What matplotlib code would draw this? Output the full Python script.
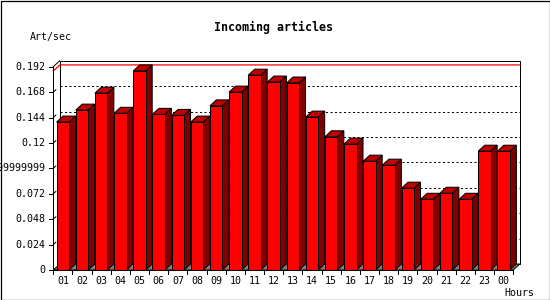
import matplotlib
matplotlib.use("Agg")
import matplotlib.pyplot as plt
from matplotlib.patches import Polygon, Rectangle
from matplotlib.transforms import blended_transform_factory

# ---- data ----
hours = ["01", "02", "03", "04", "05", "06", "07", "08", "09", "10", "11", "12",
         "13", "14", "15", "16", "17", "18", "19", "20", "21", "22", "23", "00"]
values = [0.1397, 0.151, 0.167, 0.148, 0.188, 0.147, 0.146, 0.1397, 0.155, 0.168,
          0.184, 0.1775, 0.1766, 0.1444, 0.1258, 0.1189, 0.1028, 0.099, 0.0773,
          0.0668, 0.0725, 0.0668, 0.1122, 0.1122]
ytick_vals = [0, 0.024, 0.048, 0.072, 0.096, 0.12, 0.144, 0.168, 0.192]
ytick_labels = ["0", "0.024", "0.048", "0.072", "0.09599999999", "0.12",
                "0.144", "0.168", "0.192"]
title = "Incoming articles"
ylabel = "Art/sec"
xlabel = "Hours"

W, H = 550, 300
fig = plt.figure(figsize=(W / 100, H / 100), dpi=100)
fig.patch.set_facecolor("white")

left_px, right_px, bot_px, top_px = 53.3, 513.3, 270.0, 66.7
ax = fig.add_axes([left_px / W, 1 - bot_px / H, (right_px - left_px) / W,
                   (bot_px - top_px) / H])
n = len(values)
x0, x1 = -0.5, n - 0.5
ymax = 0.192
ax.set_xlim(x0, x1)
ax.set_ylim(0, ymax)
ax.axis("off")

pxx = (right_px - left_px) / n          # px per category
pxy = (bot_px - top_px) / ymax          # px per unit value
dx = 6.5 / pxx
dy = 6.0 / pxy

lw = 0.72
# back wall
ax.add_patch(Polygon([(x0 + dx, dy), (x1 + dx, dy), (x1 + dx, ymax + dy),
                      (x0 + dx, ymax + dy)], closed=True, facecolor="white",
                     edgecolor="black", lw=lw, zorder=1, clip_on=False))
# grid lines on back wall
for t in ytick_vals[1:-1]:
    ax.plot([x0 + dx, x1 + dx], [t + dy, t + dy], color="black", lw=0.72,
            dashes=(2, 2.5), zorder=2, clip_on=False)
    ax.plot([x0, x0 + dx * 0.4], [t, t + dy * 0.4], color="black", lw=0.72,
            zorder=2, clip_on=False)
# max line (red)
vmax = max(values)
ax.plot([x0, x0 + dx, x1 + dx], [vmax, vmax + dy, vmax + dy], color="red",
        lw=0.9, zorder=2, clip_on=False)
# left wall top diagonal
ax.plot([x0, x0 + dx], [ymax, ymax + dy], color="black", lw=lw, zorder=2,
        clip_on=False)
# floor
ax.add_patch(Polygon([(x0, 0), (x1, 0), (x1 + dx, dy), (x0 + dx, dy)],
                     closed=True, facecolor="#808080", edgecolor="black",
                     lw=lw, zorder=2, clip_on=False))

# bars
fw_l, fw_r = 0.33, 0.32
for i, v in enumerate(values):
    a, b = i - fw_l, i + fw_r
    z = 3 + i * 0.01
    side = Polygon([(b, 0), (b + dx, dy), (b + dx, v + dy), (b, v)], closed=True,
                   facecolor="#800000", edgecolor="black", lw=lw, zorder=z,
                   clip_on=False)
    topf = Polygon([(a, v), (b, v), (b + dx, v + dy), (a + dx, v + dy)],
                   closed=True, facecolor="#C00000", edgecolor="black", lw=lw,
                   zorder=z, clip_on=False)
    front = Polygon([(a, 0), (b, 0), (b, v), (a, v)], closed=True,
                    facecolor="#FF0000", edgecolor="black", lw=lw, zorder=z,
                    clip_on=False)
    for p in (side, topf, front):
        ax.add_patch(p)

# front axes
ax.plot([x0, x0], [0, ymax], color="black", lw=lw, zorder=4, clip_on=False)
ax.plot([x0, x1], [0, 0], color="black", lw=lw, zorder=4, clip_on=False)

# y ticks
tick_len_x = 4.0 / pxx
for t in ytick_vals:
    ax.plot([x0 - tick_len_x, x0], [t, t], color="black", lw=lw, zorder=4,
            clip_on=False)
ytr = blended_transform_factory(fig.transFigure, ax.transData)
for t, lab in zip(ytick_vals, ytick_labels):
    fig.text(45.5 / W, t, lab, transform=ytr, ha="right", va="center",
             family="DejaVu Sans Mono", fontsize=7.2)

# x ticks
tick_len_y = 4.0 / pxy
for k in range(n + 1):
    xx = k - 0.5
    ax.plot([xx, xx], [0, -tick_len_y], color="black", lw=lw, zorder=4,
            clip_on=False)
xtr = blended_transform_factory(ax.transData, fig.transFigure)
for i, lab in enumerate(hours):
    fig.text(i, 1 - 280.5 / H, lab, transform=xtr, ha="center", va="center",
             family="DejaVu Sans Mono", fontsize=7.2)

fig.text(273.5 / W, 1 - 27 / H, title, ha="center", va="center",
         family="DejaVu Sans Mono", fontweight="bold", fontsize=8.4)
fig.text(50.5 / W, 1 - 37 / H, ylabel, ha="center", va="center",
         family="DejaVu Sans Mono", fontsize=7.2)
fig.text(519 / W, 1 - 292.5 / H, xlabel, ha="center", va="center",
         family="DejaVu Sans Mono", fontsize=7.2)

# outer border
fig.add_artist(Rectangle((0.5 / W, 0.5 / H), 1 - 1.0 / W, 1 - 1.0 / H,
                         transform=fig.transFigure, fill=False,
                         edgecolor="black", lw=0.9))

fig.savefig("out.png", dpi=100, facecolor="white")
